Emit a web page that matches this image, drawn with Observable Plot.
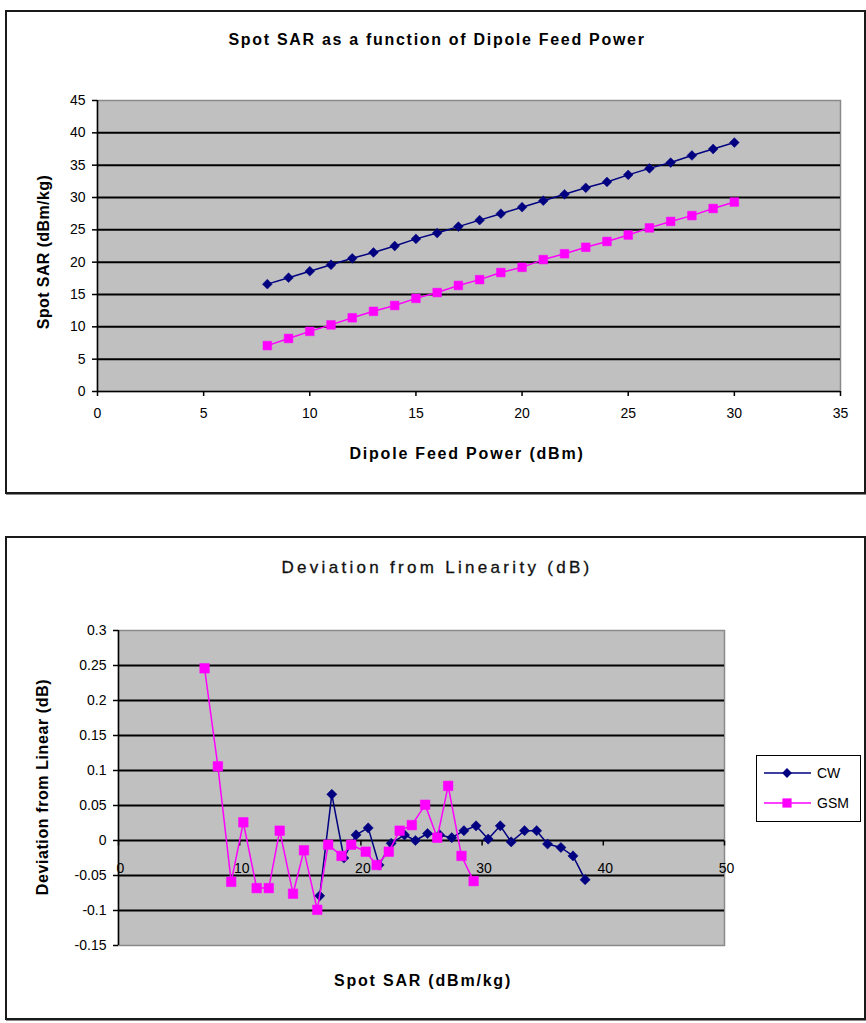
<!DOCTYPE html>
<html>
<head>
<meta charset="utf-8">
<script src="https://cdn.jsdelivr.net/npm/d3@7"></script>
<script src="https://cdn.jsdelivr.net/npm/@observablehq/plot@0.6"></script>
<style>
  html, body { margin: 0; padding: 0; background: #fff; }
  #page { position: relative; width: 866px; height: 1023px; font-family: "Liberation Sans", Arial, sans-serif; color: #000; overflow: hidden; }
  .box { position: absolute; box-sizing: border-box; border: 2px solid #1a1a1a; box-shadow: 1px 1px 0 #888; }
  .txt { position: absolute; white-space: nowrap; color: #000; }
  .hc { transform: translate(-50%, -50%); }
  .vc { transform: translate(-50%, -50%) rotate(-90deg); }
  .plotwrap { position: absolute; left: 0; }
  .plotwrap svg { background: transparent !important; }
  #legend { position: absolute; left: 756px; top: 755px; width: 105px; height: 67px; box-sizing: border-box; border: 1.5px solid #000; background: #fff; }
</style>
</head>
<body>
<div id="page">
  <div class="box" style="left:5px;top:10px;width:861px;height:484px;"></div>
  <div class="box" style="left:5px;top:536px;width:861px;height:484px;"></div>
  <div class="plotwrap" id="top" style="top:0px;"></div>
  <div class="plotwrap" id="bottom" style="top:520px;"></div>

  <div class="txt hc" style="left:437px;top:40px;font-size:16px;font-weight:bold;letter-spacing:1.7px;">Spot SAR as a function of Dipole Feed Power</div>
  <div class="txt hc" style="left:467px;top:454px;font-size:16px;font-weight:bold;letter-spacing:1.8px;">Dipole Feed Power (dBm)</div>
  <div class="txt vc" style="left:44px;top:252px;font-size:16px;font-weight:bold;letter-spacing:0.4px;">Spot SAR (dBm/kg)</div>

  <div class="txt hc" style="left:437px;top:568px;font-size:17px;letter-spacing:3.3px;color:#111;-webkit-text-stroke:0.3px #111;">Deviation from Linearity (dB)</div>
  <div class="txt hc" style="left:423px;top:981px;font-size:16px;font-weight:bold;letter-spacing:1.8px;">Spot SAR (dBm/kg)</div>
  <div class="txt vc" style="left:43px;top:787px;font-size:16px;font-weight:bold;letter-spacing:0.6px;">Deviation from Linear (dB)</div>

  <div id="legend"></div>
</div>
<script>
// ---------- data ----------
const feedPower = [8, 9, 10, 11, 12, 13, 14, 15, 16, 17, 18, 19, 20, 21, 22, 23, 24, 25, 26, 27, 28, 29, 30];
const cwSAR  = [16.6, 17.6, 18.6, 19.6, 20.6, 21.5, 22.5, 23.6, 24.5, 25.5, 26.5, 27.5, 28.5, 29.5, 30.5, 31.5, 32.4, 33.5, 34.5, 35.4, 36.5, 37.5, 38.5];
const gsmSAR = [7.1, 8.2, 9.3, 10.3, 11.4, 12.4, 13.3, 14.4, 15.3, 16.4, 17.3, 18.4, 19.2, 20.4, 21.3, 22.3, 23.2, 24.2, 25.3, 26.3, 27.2, 28.3, 29.3];
const cwDev  = [-0.079, 0.066, -0.025, 0.008, 0.018, -0.035, -0.004, 0.008, 0.000, 0.010, 0.008, 0.004, 0.014, 0.021, 0.002, 0.021, -0.002, 0.014, 0.014, -0.005, -0.010, -0.022, -0.056];
const gsmDev = [0.246, 0.106, -0.059, 0.026, -0.068, -0.068, 0.014, -0.076, -0.014, -0.099, -0.006, -0.022, -0.006, -0.016, -0.035, -0.016, 0.014, 0.022, 0.051, 0.004, 0.078, -0.022, -0.058];
const seriesNames = ["CW", "GSM"];
const seriesColors = ["#000080", "#ff00ff"];
const topXTicks = [0, 5, 10, 15, 20, 25, 30, 35];
const topYTicks = [0, 5, 10, 15, 20, 25, 30, 35, 40, 45];
const botXTicks = [0, 10, 20, 30, 40, 50];
const botYTicks = [-0.15, -0.1, -0.05, 0, 0.05, 0.1, 0.15, 0.2, 0.25, 0.3];

// ---------- tables ----------
const topCW  = feedPower.map((p, i) => ({p, v: cwSAR[i]}));
const topGSM = feedPower.map((p, i) => ({p, v: gsmSAR[i]}));
const botCW  = cwSAR.map((s, i) => ({s, d: cwDev[i]}));
const botGSM = gsmSAR.map((s, i) => ({s, d: gsmDev[i]}));

const NAVY = seriesColors[0], MAG = seriesColors[1];
const downTick = {draw(ctx) { ctx.moveTo(0, 0); ctx.lineTo(0, 5); }};
const fmt = d => String(Math.round(d * 100) / 100);

// ---------- top chart ----------
const topPlot = Plot.plot({
  width: 866, height: 500,
  marginLeft: 97, marginRight: 26, marginTop: 100, marginBottom: 109,
  style: {fontFamily: "Liberation Sans, Arial, sans-serif", fontSize: "14px", color: "#000", background: "transparent"},
  x: {domain: [0, 35]},
  y: {domain: [0, 45]},
  marks: [
    Plot.frame({fill: "#c0c0c0", stroke: "#8a8a8a", strokeWidth: 1.5}),
    Plot.gridY(topYTicks.slice(1, -1), {stroke: "#000", strokeOpacity: 1, strokeWidth: 2}),
    Plot.ruleX([0], {stroke: "#000", strokeWidth: 1.5}),
    Plot.ruleY([0], {stroke: "#000", strokeWidth: 1.5}),
    Plot.axisY({ticks: topYTicks, tickSize: 5, tickPadding: 7, label: null, stroke: "#000", strokeWidth: 1.5, letterSpacing: 1}),
    Plot.axisX({ticks: topXTicks, tickSize: 5, tickPadding: 12, label: null, stroke: "#000", strokeWidth: 1.5, letterSpacing: 1}),
    Plot.line(topCW, {x: "p", y: "v", stroke: NAVY, strokeWidth: 1.5}),
    Plot.dot(topCW, {x: "p", y: "v", symbol: "diamond2", r: 4.4, fill: NAVY, stroke: NAVY, strokeWidth: 0.5}),
    Plot.line(topGSM, {x: "p", y: "v", stroke: MAG, strokeWidth: 1.5}),
    Plot.dot(topGSM, {x: "p", y: "v", symbol: "square", r: 4.9, fill: MAG, stroke: MAG, strokeWidth: 0.5})
  ]
});
document.getElementById("top").appendChild(topPlot);

// ---------- bottom chart ----------
const botPlot = Plot.plot({
  width: 866, height: 503,
  marginLeft: 118, marginRight: 142, marginTop: 110, marginBottom: 78,
  style: {fontFamily: "Liberation Sans, Arial, sans-serif", fontSize: "14px", color: "#000", background: "transparent"},
  x: {domain: [0, 50], axis: null},
  y: {domain: [-0.15, 0.3]},
  marks: [
    Plot.frame({fill: "#c0c0c0", stroke: "#8a8a8a", strokeWidth: 1.5}),
    Plot.gridY(botYTicks.filter(d => d !== 0).slice(1, -1), {stroke: "#000", strokeOpacity: 1, strokeWidth: 2}),
    Plot.ruleX([0], {stroke: "#000", strokeWidth: 1.5}),
    Plot.ruleY([0], {stroke: "#000", strokeWidth: 2}),
    Plot.axisY({ticks: botYTicks, tickFormat: fmt, tickSize: 5, tickPadding: 7, label: null, stroke: "#000", strokeWidth: 1.5, letterSpacing: 1}),
    Plot.dot(botXTicks, {x: d => d, y: 0, symbol: downTick, stroke: "#000", strokeWidth: 1.5}),
    Plot.text(botXTicks, {x: d => d, y: 0, text: d => String(d), dy: 28, dx: 2, fontSize: 14, letterSpacing: 1, fill: "#000"}),
    Plot.line(botCW, {x: "s", y: "d", stroke: NAVY, strokeWidth: 1.5}),
    Plot.dot(botCW, {x: "s", y: "d", symbol: "diamond2", r: 4.6, fill: NAVY, stroke: NAVY, strokeWidth: 0.5}),
    Plot.line(botGSM, {x: "s", y: "d", stroke: MAG, strokeWidth: 1.5}),
    Plot.dot(botGSM, {x: "s", y: "d", symbol: "square", r: 5.4, fill: MAG, stroke: MAG, strokeWidth: 0.5})
  ]
});
document.getElementById("bottom").appendChild(botPlot);

// ---------- legend ----------
const lg = d3.select("#legend").append("svg").attr("width", 102).attr("height", 64);
seriesNames.forEach((name, i) => {
  const y = 17 + i * 30;
  const g = lg.append("g");
  g.append("line").attr("x1", 7).attr("x2", 54).attr("y1", y).attr("y2", y).attr("stroke", seriesColors[i]).attr("stroke-width", 1.5);
  g.append("path").attr("transform", `translate(30,${y})`)
    .attr("d", d3.symbol(i === 0 ? d3.symbolDiamond2 : d3.symbolSquare, i === 0 ? 62 : 85)())
    .attr("fill", seriesColors[i]);
  g.append("text").attr("x", 60).attr("y", y + 5).attr("font-size", 14).attr("font-family", "Liberation Sans, Arial, sans-serif").text(name);
});
</script>
</body>
</html>
